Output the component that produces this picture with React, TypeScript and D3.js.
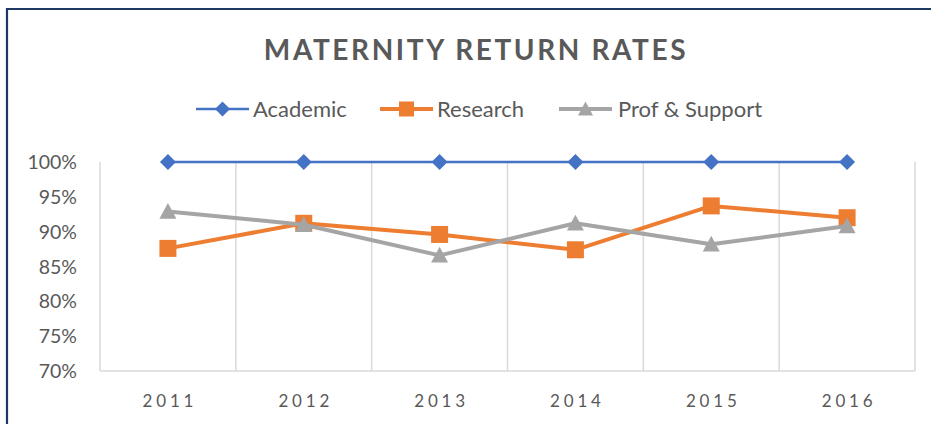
import React from 'react'
import * as d3 from 'd3'

const years = ['2011', '2012', '2013', '2014', '2015', '2016']
const academic = [100, 100, 100, 100, 100, 100]
const research = [87.6, 91.2, 89.6, 87.4, 93.7, 92.0]
const profSupport = [92.9, 91.0, 86.6, 91.2, 88.2, 90.8]
const yTicks = [70, 75, 80, 85, 90, 95, 100]

const series = [
	{ name: 'Academic', values: academic, color: '#4472C4', width: 2.5, marker: 'diamond' },
	{ name: 'Research', values: research, color: '#ED7D31', width: 4, marker: 'square' },
	{ name: 'Prof & Support', values: profSupport, color: '#A5A5A5', width: 4, marker: 'triangle' },
]

const W = 931
const H = 424
const plot = { left: 100, right: 915, top: 162, bottom: 371 }
const textColor = '#595959'
const font = 'Lato, "Open Sans", sans-serif'

// marker shapes drawn as paths around (0,0)
function markerPath(kind: string, s: number) {
	const h = s / 2
	const p = d3.path()
	if (kind === 'diamond') {
		p.moveTo(0, -h); p.lineTo(h, 0); p.lineTo(0, h); p.lineTo(-h, 0); p.closePath()
	} else if (kind === 'square') {
		p.rect(-h, -h, s, s)
	} else {
		p.moveTo(0, -h); p.lineTo(h, h * 0.85); p.lineTo(-h, h * 0.85); p.closePath()
	}
	return p.toString()
}

function Marker(props: { kind: string, x: number, y: number, color: string, size: number }) {
	const { kind, x, y, color, size } = props
	return <path d={markerPath(kind, size)} transform={`translate(${x},${y})`} fill={color} />
}

export default function App() {
	const x = d3.scaleBand<string>().domain(years).range([plot.left, plot.right])
	const y = d3.scaleLinear().domain([70, 100]).range([plot.bottom, plot.top])
	const cx = (d: string) => (x(d) || 0) + x.bandwidth() / 2

	const line = d3.line<number>()
		.x((_, i) => cx(years[i]))
		.y(v => y(v))

	const gridXs = years.map(d => x(d) || 0).concat([plot.right])

	const legend = [
		{ lx: 196, tx: 253 },
		{ lx: 380, tx: 437 },
		{ lx: 559, tx: 618 },
	]

	return (
		<svg width={W} height={H} style={{ position: 'absolute', left: 0, top: 0, background: '#fff' }}>
			<rect x={0} y={0} width={W} height={H} fill="#fff" />
			{/* frame */}
			<path d={`M7,${H + 5} L7,9 L${W + 5},9`} fill="none" stroke="#203864" strokeWidth={2.2} />

			<text x={476} y={60} textAnchor="middle" fill={textColor}
				style={{ fontFamily: font, fontWeight: 700, fontSize: 28, letterSpacing: 2.6 }}>
				MATERNITY RETURN RATES
			</text>

			{/* legend */}
			{series.map((s, i) => (
				<g key={s.name}>
					<line x1={legend[i].lx} x2={legend[i].lx + 53} y1={109} y2={109} stroke={s.color} strokeWidth={s.width} />
					<Marker kind={s.marker} x={legend[i].lx + 26.5} y={109} color={s.color} size={15} />
					<text x={legend[i].tx} y={117} fill={textColor} style={{ fontFamily: font, fontSize: 22 }}>{s.name}</text>
				</g>
			))}

			{/* vertical gridlines */}
			{gridXs.map((gx, i) => (
				<line key={i} x1={gx} x2={gx} y1={plot.top} y2={plot.bottom} stroke="#D9D9D9" strokeWidth={1.5} />
			))}
			<line x1={plot.left} x2={plot.right} y1={plot.bottom} y2={plot.bottom} stroke="#D9D9D9" strokeWidth={1.5} />

			{/* y axis labels */}
			{yTicks.map(t => (
				<text key={t} x={77} y={y(t) + 7} textAnchor="end" fill={textColor}
					style={{ fontFamily: font, fontSize: 19.5 }}>{d3.format('.0%')(t / 100)}</text>
			))}

			{/* x axis labels */}
			{years.map(d => (
				<text key={d} x={cx(d) + 2} y={407} textAnchor="middle" fill={textColor}
					style={{ fontFamily: font, fontSize: 17, letterSpacing: 3.8 }}>{d}</text>
			))}

			{/* series */}
			{series.map(s => (
				<g key={s.name}>
					<path d={line(s.values) || ''} fill="none" stroke={s.color} strokeWidth={s.width} strokeLinejoin="round" />
					{s.values.map((v, i) => (
						<Marker key={i} kind={s.marker} x={cx(years[i])} y={y(v)} color={s.color} size={s.marker === 'diamond' ? 16 : 17} />
					))}
				</g>
			))}
		</svg>
	)
}
